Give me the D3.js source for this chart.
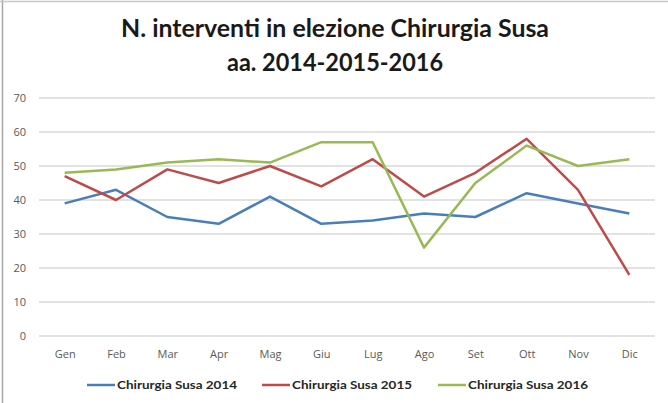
<!DOCTYPE html>
<html>
<head>
<meta charset="utf-8">
<script src="https://cdn.jsdelivr.net/npm/d3@7"></script>
<style>
  html, body { margin: 0; padding: 0; background: #fff; }
  svg { display: block; }
</style>
</head>
<body>
<svg id="chart" width="668" height="403"></svg>
<script>
const months = ["Gen","Feb","Mar","Apr","Mag","Giu","Lug","Ago","Set","Ott","Nov","Dic"];
const s2014 = [39, 43, 35, 33, 41, 33, 34, 36, 35, 42, 39, 36];
const s2015 = [47, 40, 49, 45, 50, 44, 52, 41, 48, 58, 43, 18];
const s2016 = [48, 49, 51, 52, 51, 57, 57, 26, 45, 56, 50, 52];
const seriesNames = ["Chirurgia Susa 2014", "Chirurgia Susa 2015", "Chirurgia Susa 2016"];
const seriesColors = ["#4A7EBB", "#BE4B48", "#98B954"];
const yTicks = [0, 10, 20, 30, 40, 50, 60, 70];
const titleLines = ["N. interventi in elezione Chirurgia Susa", "aa. 2014-2015-2016"];

const series = [s2014, s2015, s2016];
const svg = d3.select("#chart");
const W = 668, H = 403;
const plot = { left: 39, right: 655, top: 98, bottom: 336 };

// frame
svg.append("rect").attr("x", 0).attr("y", 0).attr("width", W).attr("height", H).attr("fill", "#fff");
svg.append("line").attr("x1", 2.5).attr("x2", 2.5).attr("y1", 0).attr("y2", H).attr("stroke", "#a6a6a6").attr("stroke-width", 1.5);
svg.append("line").attr("x1", 0).attr("x2", W).attr("y1", 1.5).attr("y2", 1.5).attr("stroke", "#c8c8c8").attr("stroke-width", 1.5);

// title
const titleFont = "Lato, 'Open Sans', sans-serif";
svg.append("text").attr("x", 335).attr("y", 37).attr("text-anchor", "middle")
  .attr("font-family", titleFont).attr("font-weight", "bold").attr("font-size", 24)
  .attr("fill", "#1a1a1a").attr("textLength", 428).attr("lengthAdjust", "spacingAndGlyphs")
  .text(titleLines[0]);
svg.append("text").attr("x", 335).attr("y", 71).attr("text-anchor", "middle")
  .attr("font-family", titleFont).attr("font-weight", "bold").attr("font-size", 24)
  .attr("fill", "#1a1a1a").attr("textLength", 216).attr("lengthAdjust", "spacingAndGlyphs")
  .text(titleLines[1]);

const x = d3.scalePoint().domain(months).range([plot.left, plot.right]).padding(0.5);
const y = d3.scaleLinear().domain([0, 70]).range([plot.bottom, plot.top]);

// gridlines
svg.append("g").selectAll("line").data(yTicks).join("line")
  .attr("x1", plot.left).attr("x2", plot.right)
  .attr("y1", d => y(d)).attr("y2", d => y(d))
  .attr("stroke", "#d9d9d9").attr("stroke-width", 1.5);

// y axis labels
const yAxis = d3.axisLeft(y).tickValues(yTicks).tickSize(0).tickPadding(0);
const gy = svg.append("g").attr("transform", `translate(26,0)`).call(yAxis);
gy.select(".domain").remove();
gy.selectAll("text").attr("font-family", "'Open Sans', sans-serif").attr("font-size", 11).attr("fill", "#595959");

// x axis labels
const xAxis = d3.axisBottom(x).tickSize(0).tickPadding(0);
const gx = svg.append("g").attr("transform", `translate(0,350)`).call(xAxis);
gx.select(".domain").remove();
gx.selectAll("text").attr("font-family", "'Open Sans', sans-serif").attr("font-size", 11).attr("fill", "#595959");

// lines
const line = d3.line().x((d, i) => x(months[i])).y(d => y(d));
svg.append("g").selectAll("path").data(series).join("path")
  .attr("d", d => line(d))
  .attr("fill", "none")
  .attr("stroke", (d, i) => seriesColors[i])
  .attr("stroke-width", 2.5)
  .attr("stroke-linejoin", "round");

// legend
const legendX = [87, 262, 438];
const lg = svg.append("g").selectAll("g").data(seriesNames).join("g")
  .attr("transform", (d, i) => `translate(${legendX[i]},385)`);
lg.append("line").attr("x1", 0).attr("x2", 28).attr("y1", 0).attr("y2", 0)
  .attr("stroke", (d, i) => seriesColors[i]).attr("stroke-width", 2.5);
lg.append("text").attr("x", 30).attr("y", 4)
  .attr("font-family", "Lato, 'Open Sans', sans-serif").attr("font-weight", "bold").attr("font-size", 12)
  .attr("fill", "#262626").attr("textLength", 120).attr("lengthAdjust", "spacingAndGlyphs")
  .text(d => d);
</script>
</body>
</html>
